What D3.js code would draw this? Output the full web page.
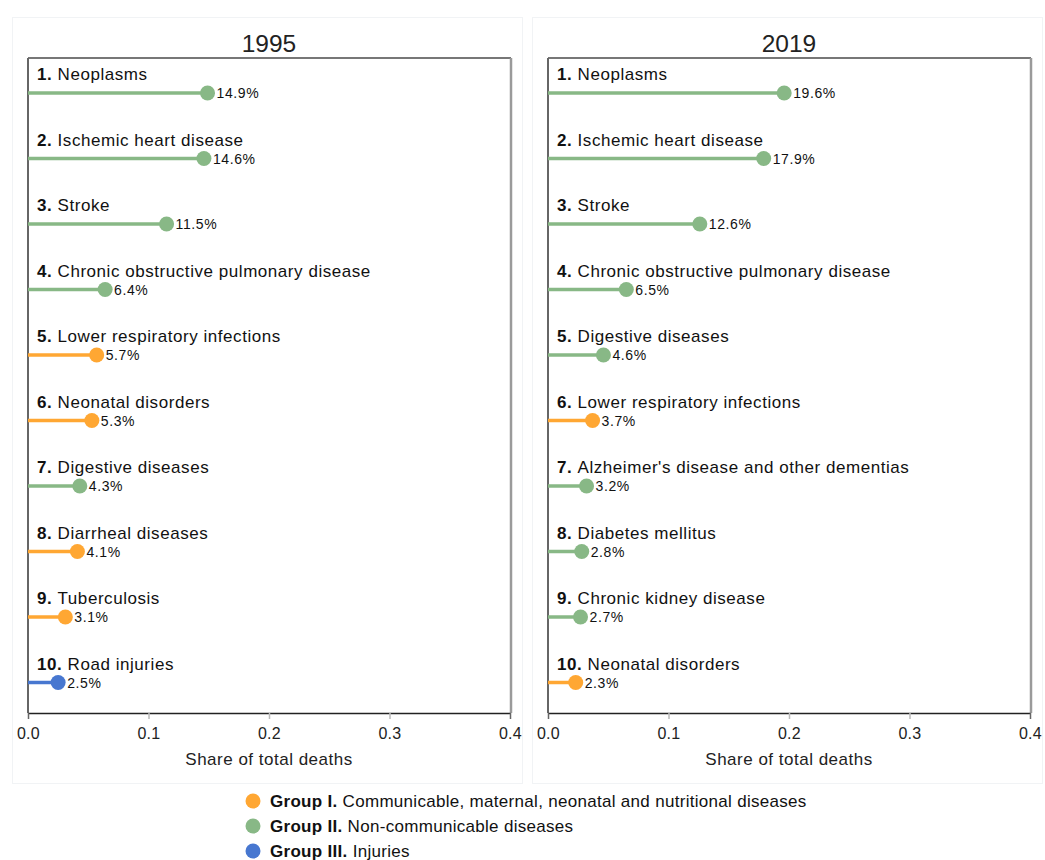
<!DOCTYPE html>
<html>
<head>
<meta charset="utf-8">
<script src="https://cdn.jsdelivr.net/npm/d3@7"></script>
<style>
  html, body { margin: 0; padding: 0; background: #fff; }
  svg { display: block; font-family: "Liberation Sans", Arial, sans-serif; }
</style>
</head>
<body>
<svg id="chart" width="1045" height="860"></svg>
<script>
// ---- data ----
const years = ["1995", "2019"];
const causes1995 = ["Neoplasms", "Ischemic heart disease", "Stroke", "Chronic obstructive pulmonary disease",
  "Lower respiratory infections", "Neonatal disorders", "Digestive diseases", "Diarrheal diseases",
  "Tuberculosis", "Road injuries"];
const values1995 = [0.149, 0.146, 0.115, 0.064, 0.057, 0.053, 0.043, 0.041, 0.031, 0.025];
const groups1995 = ["II", "II", "II", "II", "I", "I", "II", "I", "I", "III"];
const causes2019 = ["Neoplasms", "Ischemic heart disease", "Stroke", "Chronic obstructive pulmonary disease",
  "Digestive diseases", "Lower respiratory infections", "Alzheimer's disease and other dementias",
  "Diabetes mellitus", "Chronic kidney disease", "Neonatal disorders"];
const values2019 = [0.196, 0.179, 0.126, 0.065, 0.046, 0.037, 0.032, 0.028, 0.027, 0.023];
const groups2019 = ["II", "II", "II", "II", "II", "I", "II", "II", "II", "I"];
const xTicks = [0, 0.1, 0.2, 0.3, 0.4];
const groupKeys = ["I", "II", "III"];
const groupColors = ["#ffa733", "#88b886", "#4777d0"];
const legendBold = ["Group I.", "Group II.", "Group III."];
const legendText = ["Communicable, maternal, neonatal and nutritional diseases", "Non-communicable diseases", "Injuries"];
const axisTitle = "Share of total deaths";

const color = d3.scaleOrdinal().domain(groupKeys).range(groupColors);
const svg = d3.select("#chart");

const panels = [
  { year: years[0], causes: causes1995, values: values1995, groups: groups1995, x0: 28, x1: 510, box: [12, 17, 510, 766] },
  { year: years[1], causes: causes2019, values: values2019, groups: groups2019, x0: 548, x1: 1030, box: [532, 17, 510, 766] }
];
const plotTop = 58, plotBottom = 713;

panels.forEach(p => {
  const g = svg.append("g");
  g.append("rect").attr("x", p.box[0] + 0.5).attr("y", p.box[1] + 0.5)
    .attr("width", p.box[2]).attr("height", p.box[3])
    .attr("fill", "none").attr("stroke", "#f1f3f5").attr("stroke-width", 1);

  const x = d3.scaleLinear().domain([0, 0.4]).range([p.x0, p.x1]);
  const rows = d3.range(p.causes.length);
  const y = d3.scaleBand().domain(rows).range([plotTop, plotBottom]);

  g.append("text").attr("x", (p.x0 + p.x1) / 2).attr("y", 52)
    .attr("text-anchor", "middle").attr("font-size", 24.5).attr("fill", "#222").text(p.year);

  g.append("line").attr("x1", p.x0).attr("x2", p.x1 + 1).attr("y1", plotTop).attr("y2", plotTop)
    .attr("stroke", "#777").attr("stroke-width", 2);
  g.append("line").attr("x1", p.x1 + 1).attr("x2", p.x1 + 1).attr("y1", plotTop).attr("y2", plotBottom)
    .attr("stroke", "#9a9a9a").attr("stroke-width", 2.5);
  g.append("line").attr("x1", p.x0).attr("x2", p.x0).attr("y1", plotTop).attr("y2", plotBottom)
    .attr("stroke", "#666").attr("stroke-width", 2);

  const ax = g.append("g").attr("transform", `translate(0,${plotBottom})`)
    .call(d3.axisBottom(x).tickValues(xTicks).tickFormat(d3.format(".1f")).tickSize(6).tickSizeOuter(0));
  ax.select(".domain").attr("stroke", "#222").attr("stroke-width", 1.5);
  ax.selectAll(".tick line").attr("stroke", "#bbb").attr("stroke-width", 1.5);
  ax.selectAll(".tick text").attr("font-size", 16).attr("fill", "#222").attr("dy", "1.05em")
    .attr("font-family", "Liberation Sans, Arial, sans-serif").attr("letter-spacing", 0.3);
  ax.selectAll(".tick").filter(d => d === 0 || d === 0.4).select("line").attr("stroke", "#666");

  g.append("text").attr("x", (p.x0 + p.x1) / 2).attr("y", 765)
    .attr("text-anchor", "middle").attr("font-size", 17).attr("letter-spacing", 0.5)
    .attr("fill", "#222").text(axisTitle);

  rows.forEach(i => {
    const by = y(i);
    const ly = by + 35;
    const c = color(p.groups[i]);
    const t = g.append("text").attr("x", p.x0 + 9).attr("y", by + 22).attr("font-size", 17)
      .attr("letter-spacing", 0.55).attr("fill", "#111");
    t.append("tspan").attr("font-weight", "bold").text((i + 1) + ". ");
    t.append("tspan").text(p.causes[i]);
    g.append("line").attr("x1", x(0)).attr("x2", x(p.values[i])).attr("y1", ly).attr("y2", ly)
      .attr("stroke", c).attr("stroke-width", 3.5);
    g.append("circle").attr("cx", x(p.values[i])).attr("cy", ly).attr("r", 7.5).attr("fill", c);
    g.append("text").attr("x", x(p.values[i]) + 9).attr("y", ly + 5).attr("font-size", 14)
      .attr("letter-spacing", 0.6).attr("fill", "#111")
      .text(d3.format(".1%")(p.values[i]));
  });
});

const lg = svg.append("g");
groupKeys.forEach((k, i) => {
  const cy = 801 + i * 25;
  lg.append("circle").attr("cx", 253).attr("cy", cy).attr("r", 7.5).attr("fill", color(k));
  const t = lg.append("text").attr("x", 270).attr("y", cy + 6).attr("font-size", 17)
    .attr("letter-spacing", 0.3).attr("fill", "#111");
  t.append("tspan").attr("font-weight", "bold").text(legendBold[i] + " ");
  t.append("tspan").text(legendText[i]);
});
</script>
</body>
</html>
